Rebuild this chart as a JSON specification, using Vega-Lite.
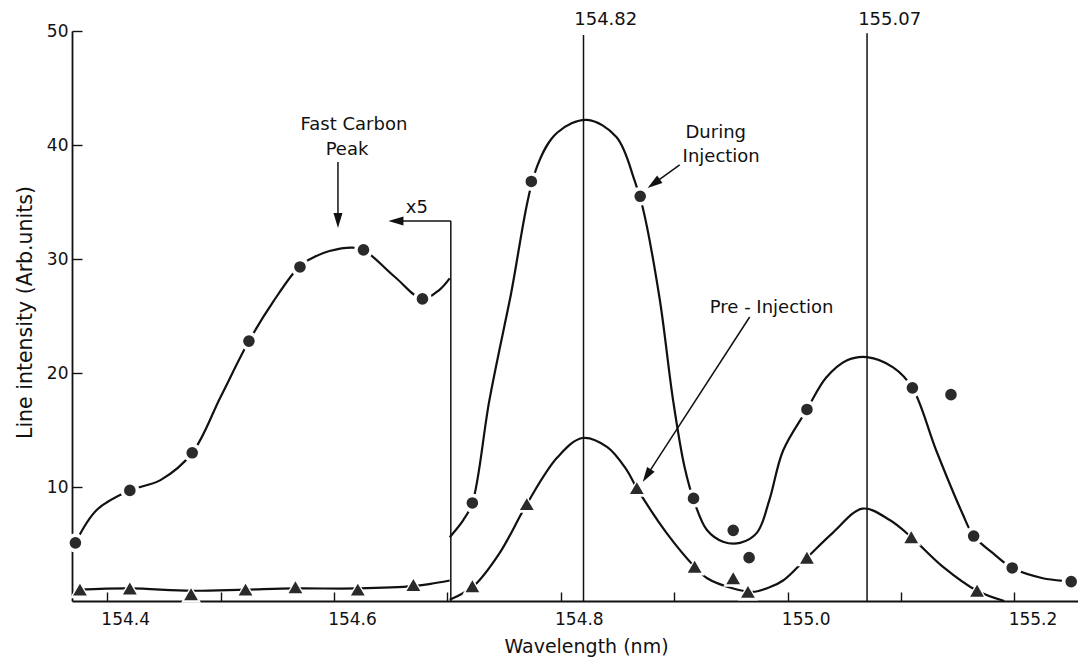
{
  "$schema": "https://vega.github.io/schema/vega-lite/v6.json",
  "width": 1006,
  "height": 570,
  "autosize": {"type": "none"},
  "padding": {"left": 72, "top": 31, "right": 0, "bottom": 68},
  "background": "white",
  "config": {"view": {"stroke": null}},
  "resolve": {"scale": {"size": "independent"}},
  "datasets": {
    "curves": [
      {"s": "d1", "x": 154.372, "y": 5.1}, {"s": "d1", "x": 154.391, "y": 8.0}, {"s": "d1", "x": 154.420, "y": 9.7}, {"s": "d1", "x": 154.447, "y": 10.6}, {"s": "d1", "x": 154.475, "y": 13.0}, {"s": "d1", "x": 154.500, "y": 17.9}, {"s": "d1", "x": 154.525, "y": 22.8}, {"s": "d1", "x": 154.546, "y": 26.2}, {"s": "d1", "x": 154.570, "y": 29.4}, {"s": "d1", "x": 154.583, "y": 30.2}, {"s": "d1", "x": 154.596, "y": 30.7}, {"s": "d1", "x": 154.616, "y": 31.0}, {"s": "d1", "x": 154.626, "y": 30.8}, {"s": "d1", "x": 154.654, "y": 28.4}, {"s": "d1", "x": 154.678, "y": 26.5}, {"s": "d1", "x": 154.693, "y": 27.3}, {"s": "d1", "x": 154.702, "y": 28.3},
      {"s": "d2", "x": 154.702, "y": 5.6}, {"s": "d2", "x": 154.714, "y": 7.1}, {"s": "d2", "x": 154.722, "y": 8.6}, {"s": "d2", "x": 154.737, "y": 17.6}, {"s": "d2", "x": 154.755, "y": 26.4}, {"s": "d2", "x": 154.779, "y": 38.1}, {"s": "d2", "x": 154.797, "y": 41.1}, {"s": "d2", "x": 154.823, "y": 42.2}, {"s": "d2", "x": 154.849, "y": 40.7}, {"s": "d2", "x": 154.865, "y": 36.9}, {"s": "d2", "x": 154.872, "y": 34.6}, {"s": "d2", "x": 154.887, "y": 26.6}, {"s": "d2", "x": 154.899, "y": 17.6}, {"s": "d2", "x": 154.909, "y": 11.8}, {"s": "d2", "x": 154.918, "y": 8.6}, {"s": "d2", "x": 154.929, "y": 6.2}, {"s": "d2", "x": 154.943, "y": 5.2}, {"s": "d2", "x": 154.958, "y": 5.1}, {"s": "d2", "x": 154.973, "y": 6.0}, {"s": "d2", "x": 154.984, "y": 8.9}, {"s": "d2", "x": 154.996, "y": 13.2}, {"s": "d2", "x": 155.017, "y": 16.8}, {"s": "d2", "x": 155.034, "y": 19.6}, {"s": "d2", "x": 155.052, "y": 21.1}, {"s": "d2", "x": 155.070, "y": 21.4}, {"s": "d2", "x": 155.093, "y": 20.5}, {"s": "d2", "x": 155.110, "y": 18.7}, {"s": "d2", "x": 155.131, "y": 13.2}, {"s": "d2", "x": 155.154, "y": 7.7}, {"s": "d2", "x": 155.164, "y": 5.7}, {"s": "d2", "x": 155.181, "y": 4.2}, {"s": "d2", "x": 155.198, "y": 2.9}, {"s": "d2", "x": 155.225, "y": 2.0}, {"s": "d2", "x": 155.250, "y": 1.7}, {"s": "d2", "x": 155.256, "y": 1.6},
      {"s": "p1", "x": 154.376, "y": 1.0}, {"s": "p1", "x": 154.420, "y": 1.1}, {"s": "p1", "x": 154.474, "y": 0.9}, {"s": "p1", "x": 154.522, "y": 1.0}, {"s": "p1", "x": 154.566, "y": 1.1}, {"s": "p1", "x": 154.621, "y": 1.1}, {"s": "p1", "x": 154.670, "y": 1.3}, {"s": "p1", "x": 154.685, "y": 1.5}, {"s": "p1", "x": 154.702, "y": 1.8},
      {"s": "p2", "x": 154.702, "y": 0.1}, {"s": "p2", "x": 154.723, "y": 1.3}, {"s": "p2", "x": 154.746, "y": 4.2}, {"s": "p2", "x": 154.770, "y": 8.5}, {"s": "p2", "x": 154.797, "y": 12.6}, {"s": "p2", "x": 154.819, "y": 14.3}, {"s": "p2", "x": 154.841, "y": 13.5}, {"s": "p2", "x": 154.858, "y": 11.5}, {"s": "p2", "x": 154.867, "y": 9.9}, {"s": "p2", "x": 154.893, "y": 6.0}, {"s": "p2", "x": 154.918, "y": 3.0}, {"s": "p2", "x": 154.929, "y": 2.0}, {"s": "p2", "x": 154.952, "y": 1.1}, {"s": "p2", "x": 154.969, "y": 0.8}, {"s": "p2", "x": 154.984, "y": 1.2}, {"s": "p2", "x": 154.996, "y": 1.8}, {"s": "p2", "x": 155.017, "y": 3.8}, {"s": "p2", "x": 155.040, "y": 6.0}, {"s": "p2", "x": 155.066, "y": 8.1}, {"s": "p2", "x": 155.090, "y": 7.1}, {"s": "p2", "x": 155.109, "y": 5.6}, {"s": "p2", "x": 155.137, "y": 3.0}, {"s": "p2", "x": 155.167, "y": 0.9}, {"s": "p2", "x": 155.191, "y": 0.0}
    ],
    "points": [
      {"series": "During Injection", "x": 154.372, "y": 5.1}, {"series": "During Injection", "x": 154.420, "y": 9.7}, {"series": "During Injection", "x": 154.475, "y": 13.0}, {"series": "During Injection", "x": 154.525, "y": 22.8}, {"series": "During Injection", "x": 154.570, "y": 29.3}, {"series": "During Injection", "x": 154.626, "y": 30.8}, {"series": "During Injection", "x": 154.678, "y": 26.5}, {"series": "During Injection", "x": 154.722, "y": 8.6}, {"series": "During Injection", "x": 154.774, "y": 36.8}, {"series": "During Injection", "x": 154.870, "y": 35.5}, {"series": "During Injection", "x": 154.917, "y": 9.0}, {"series": "During Injection", "x": 154.952, "y": 6.2}, {"series": "During Injection", "x": 154.966, "y": 3.8}, {"series": "During Injection", "x": 155.017, "y": 16.8}, {"series": "During Injection", "x": 155.110, "y": 18.7}, {"series": "During Injection", "x": 155.144, "y": 18.1}, {"series": "During Injection", "x": 155.164, "y": 5.7}, {"series": "During Injection", "x": 155.198, "y": 2.9}, {"series": "During Injection", "x": 155.250, "y": 1.7},
      {"series": "Pre-Injection", "x": 154.376, "y": 1.0}, {"series": "Pre-Injection", "x": 154.420, "y": 1.1}, {"series": "Pre-Injection", "x": 154.474, "y": 0.6}, {"series": "Pre-Injection", "x": 154.522, "y": 1.0}, {"series": "Pre-Injection", "x": 154.566, "y": 1.2}, {"series": "Pre-Injection", "x": 154.621, "y": 1.0}, {"series": "Pre-Injection", "x": 154.670, "y": 1.4}, {"series": "Pre-Injection", "x": 154.722, "y": 1.3}, {"series": "Pre-Injection", "x": 154.770, "y": 8.5}, {"series": "Pre-Injection", "x": 154.867, "y": 9.9}, {"series": "Pre-Injection", "x": 154.918, "y": 3.0}, {"series": "Pre-Injection", "x": 154.952, "y": 2.0}, {"series": "Pre-Injection", "x": 154.965, "y": 0.8}, {"series": "Pre-Injection", "x": 155.017, "y": 3.8}, {"series": "Pre-Injection", "x": 155.109, "y": 5.6}, {"series": "Pre-Injection", "x": 155.167, "y": 0.9}
    ],
    "rules": [
      {"x": 154.82, "y": 0, "x2": 154.82, "y2": 49.65},
      {"x": 155.07, "y": 0, "x2": 155.07, "y2": 49.8},
      {"x": 154.703, "y": 0, "x2": 154.703, "y2": 33.33},
      {"x": 154.703, "y": 33.33, "x2": 154.652, "y2": 33.33},
      {"x": 154.6035, "y": 38.5, "x2": 154.6035, "y2": 33.6},
      {"x": 154.9048, "y": 38.25, "x2": 154.8819, "y2": 36.61},
      {"x": 154.9665, "y": 24.91, "x2": 154.8758, "y2": 10.99}
    ],
    "heads": [
      {"x": 154.6035, "y": 33.38, "a": 180},
      {"x": 154.6546, "y": 33.33, "a": 270},
      {"x": 154.8819, "y": 36.61, "a": 234.3},
      {"x": 154.8758, "y": 10.99, "a": 213}
    ],
    "labels": [
      {"x": 154.8396, "y": 50.96, "t": "154.82"},
      {"x": 155.0899, "y": 50.96, "t": "155.07"},
      {"x": 154.6176, "y": 41.75, "t": "Fast Carbon"},
      {"x": 154.6115, "y": 39.56, "t": "Peak"},
      {"x": 154.6731, "y": 34.47, "t": "x5"},
      {"x": 154.9366, "y": 41.05, "t": "During"},
      {"x": 154.9414, "y": 38.95, "t": "Injection"},
      {"x": 154.9859, "y": 25.7, "t": "Pre - Injection"}
    ]
  },
  "encoding": {
    "x": {
      "field": "x", "type": "quantitative",
      "scale": {"domain": [154.369, 155.256], "nice": false, "zero": false},
      "axis": {
        "title": "Wavelength (nm)",
        "values": [154.4, 154.5, 154.6, 154.7, 154.8, 154.9, 155.0, 155.1, 155.2],
        "labelExpr": "round(datum.value*10)%2==0 ? format(datum.value,'.1f') : ''",
        "labelOverlap": false, "labelFlush": false, "labelBound": false,
        "tickSize": -9, "tickWidth": 1.4, "tickColor": "#111",
        "domainColor": "#111", "domainWidth": 1.8,
        "grid": false, "labelPadding": 19, "labelOffset": 18,
        "labelFont": "DejaVu Sans", "labelFontSize": 17, "labelColor": "#111",
        "titleFont": "DejaVu Sans", "titleFontSize": 19, "titleFontWeight": "normal", "titleColor": "#111",
        "titleX": 514, "titleY": 45, "titleBaseline": "middle"
      }
    },
    "y": {
      "field": "y", "type": "quantitative",
      "scale": {"domain": [0, 50], "nice": false},
      "axis": {
        "title": "Line intensity (Arb.units)",
        "values": [10, 20, 30, 40, 50],
        "tickSize": -10, "tickWidth": 1.4, "tickColor": "#111",
        "domainColor": "#111", "domainWidth": 1.8,
        "grid": false, "labelPadding": 14,
        "labelFont": "DejaVu Sans", "labelFontSize": 17, "labelColor": "#111",
        "titleFont": "DejaVu Sans", "titleFontSize": 20.5, "titleFontWeight": "normal", "titleColor": "#111",
        "titleX": -47, "titleY": 281, "titleBaseline": "middle"
      }
    }
  },
  "layer": [
    {
      "data": {"name": "rules"},
      "mark": {"type": "rule", "color": "#111", "strokeWidth": 1.5},
      "encoding": {"x2": {"field": "x2"}, "y2": {"field": "y2"}}
    },
    {
      "data": {"name": "curves"},
      "mark": {"type": "line", "interpolate": "catmull-rom", "color": "#111", "strokeWidth": 2.2},
      "encoding": {"detail": {"field": "s"}}
    },
    {
      "data": {"name": "points"},
      "mark": {"type": "point", "filled": true, "color": "white", "opacity": 1},
      "encoding": {
        "shape": {"field": "series", "scale": {"domain": ["During Injection", "Pre-Injection"], "range": ["circle", "triangle-up"]}, "legend": null},
        "size": {"field": "series", "scale": {"domain": ["During Injection", "Pre-Injection"], "range": [360, 400]}, "legend": null}
      }
    },
    {
      "data": {"name": "points"},
      "mark": {"type": "point", "filled": true, "color": "#2a2a2a", "opacity": 1},
      "encoding": {
        "shape": {"field": "series", "scale": {"domain": ["During Injection", "Pre-Injection"], "range": ["circle", "triangle-up"]}, "legend": null},
        "size": {"field": "series", "scale": {"domain": ["During Injection", "Pre-Injection"], "range": [135, 190]}, "legend": null}
      }
    },
    {
      "data": {"name": "heads"},
      "mark": {"type": "point", "filled": true, "color": "#111", "opacity": 1, "shape": "M0,-1L0.6,1L-0.6,1Z", "size": 225},
      "encoding": {"angle": {"field": "a", "type": "quantitative", "scale": null}}
    },
    {
      "data": {"name": "labels"},
      "mark": {"type": "text", "font": "DejaVu Sans", "fontSize": 18, "color": "#111", "align": "center", "baseline": "middle"},
      "encoding": {"text": {"field": "t"}}
    }
  ]
}
